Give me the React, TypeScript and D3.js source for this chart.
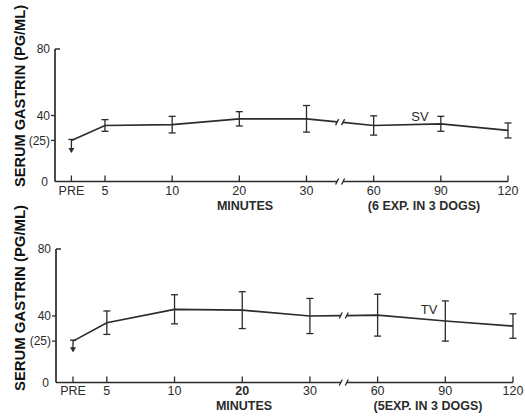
import React from 'react';
import * as d3 from 'd3';

// time points (PRE sits half a step before 5 min)
const categories = ['PRE', '5', '10', '20', '30', '60', '90', '120'];
const slots = [0.5, 1, 2, 3, 4, 5, 6, 7];

// serum gastrin, pg/ml
const svMean = [25, 34, 34.5, 38, 38, 34, 35, 31];
const svErr = [7, 3.5, 5, 4.3, 8, 5.8, 4.5, 4.5];
const tvMean = [25, 36, 44, 43.5, 40, 40.5, 37, 34];
const tvErr = [6, 7, 8.7, 11, 10.5, 12.5, 12, 7.3];

const yTicks = [0, 25, 40, 80];
const yTickLabels = ['0', '(25)', '40', '80'];

const ink = '#2b2b2b';
const font = '"Liberation Sans", Arial, sans-serif';

type PanelProps = {
	yTop: number;
	yZero: number;
	axisX: number;
	xRange: [number, number];
	mean: number[];
	err: number[];
	name: string;
	namePos: [number, number];
	note: string;
	notePos: [number, number];
	minutesPos: [number, number];
	tickLabelY: number;
	boldTick?: string;
	yLabelCenter: number;
	yLabelLength: number;
};

function Panel(p: PanelProps) {
	const x = d3.scaleLinear().domain([0.5, 7]).range(p.xRange);
	const y = d3.scaleLinear().domain([0, 80]).range([p.yZero, p.yTop]);
	const pts: [number, number][] = p.mean.map((m, i) => [x(slots[i]), y(m)]);
	const breakX = x(4.5);
	const i30 = 4;
	const a = pts[i30], b = pts[i30 + 1];
	const yAt = (px: number) => a[1] + ((px - a[0]) / (b[0] - a[0])) * (b[1] - a[1]);
	const line = d3.line();
	const seg1 = [...pts.slice(0, i30 + 1), [breakX - 3, yAt(breakX - 3)] as [number, number]];
	const seg2 = [[breakX + 3, yAt(breakX + 3)] as [number, number], ...pts.slice(i30 + 1)];
	const axisY = p.yZero - 0.5;
	const slash = (cx: number, cy: number, k: number) => (
		<g key={`${cx}-${cy}-${k}`}>
			<line x1={cx - 4.5} y1={cy + 3} x2={cx - 1.5} y2={cy - 3} stroke={ink} strokeWidth={1.3} />
			<line x1={cx + 1.5} y1={cy + 3} x2={cx + 4.5} y2={cy - 3} stroke={ink} strokeWidth={1.3} />
		</g>
	);

	return (
		<g>
			{/* y axis */}
			<line x1={p.axisX} y1={y(80)} x2={p.axisX} y2={axisY} stroke={ink} strokeWidth={1.7} />
			<line x1={p.axisX} y1={y(80)} x2={p.axisX + 5} y2={y(80)} stroke={ink} strokeWidth={1.5} />
			{yTicks.map((t, i) => (
				<g key={t}>
					{t === 25 || t === 40 ? (
						<line x1={p.axisX - 4} y1={y(t)} x2={p.axisX} y2={y(t)} stroke={ink} strokeWidth={1.3} />
					) : null}
					<text x={t === 0 ? p.axisX - 7 : p.axisX - 5} y={y(t)} dy="0.35em" textAnchor="end"
						fontFamily={font} fontSize={12} fill={ink}>{yTickLabels[i]}</text>
				</g>
			))}
			{/* x axis with break */}
			<line x1={p.axisX} y1={axisY} x2={breakX - 3} y2={axisY} stroke={ink} strokeWidth={1.7} />
			<line x1={breakX + 3} y1={axisY} x2={p.xRange[1]} y2={axisY} stroke={ink} strokeWidth={1.7} />
			{slash(breakX, axisY, 0)}
			{categories.map((c, i) => (
				<g key={c}>
					<line x1={x(slots[i])} y1={axisY} x2={x(slots[i])} y2={axisY - 6} stroke={ink} strokeWidth={1.3} />
					<text x={x(slots[i])} y={p.tickLabelY} dy="0.35em" textAnchor="middle" fontFamily={font}
						fontSize={12.5} fontWeight={c === p.boldTick ? 'bold' : 'normal'} fill={ink}>{c}</text>
				</g>
			))}
			<text x={p.minutesPos[0]} y={p.minutesPos[1]} dy="0.35em" textAnchor="middle" fontFamily={font}
				fontSize={12.5} fontWeight="bold" fill={ink}>MINUTES</text>
			<text x={p.notePos[0]} y={p.notePos[1]} dy="0.35em" textAnchor="middle" fontFamily={font}
				fontSize={12.5} fontWeight="bold" fill={ink}>{p.note}</text>
			<text transform={`translate(20,${p.yLabelCenter}) rotate(-90)`} dy="0.35em" textAnchor="middle"
				fontFamily={font} fontSize={14} fontWeight="bold" fill="#111"
				textLength={p.yLabelLength} lengthAdjust="spacingAndGlyphs">SERUM GASTRIN (PG/ML)</text>
			{/* data line with break */}
			<path d={line(seg1) || ''} fill="none" stroke={ink} strokeWidth={1.7} />
			<path d={line(seg2) || ''} fill="none" stroke={ink} strokeWidth={1.7} />
			{slash(breakX, yAt(breakX), 1)}
			{/* error bars */}
			{p.mean.map((m, i) => {
				const cx = x(slots[i]);
				if (i === 0) {
					const lo = y(m - p.err[i]);
					return (
						<g key={i}>
							<line x1={cx - 3} y1={y(m) - 1} x2={cx + 3} y2={y(m) - 1} stroke={ink} strokeWidth={1.3} />
							<line x1={cx} y1={y(m) - 1} x2={cx} y2={lo} stroke={ink} strokeWidth={1.3} />
							<path d={`M${cx - 3},${lo - 4}L${cx + 3},${lo - 4}L${cx},${lo + 1}Z`} fill={ink} />
						</g>
					);
				}
				return (
					<g key={i}>
						<line x1={cx} y1={y(m + p.err[i])} x2={cx} y2={y(m - p.err[i])} stroke={ink} strokeWidth={1.3} />
						<line x1={cx - 3.5} y1={y(m + p.err[i])} x2={cx + 3.5} y2={y(m + p.err[i])} stroke={ink} strokeWidth={1.3} />
						<line x1={cx - 3.5} y1={y(m - p.err[i])} x2={cx + 3.5} y2={y(m - p.err[i])} stroke={ink} strokeWidth={1.3} />
					</g>
				);
			})}
			<text x={p.namePos[0]} y={p.namePos[1]} dy="0.35em" textAnchor="middle" fontFamily={font}
				fontSize={13} fill={ink}>{p.name}</text>
		</g>
	);
}

export default function App() {
	return (
		<div style={{ position: 'fixed', left: 0, top: 0 }}>
			<svg width={525} height={418} style={{ display: 'block', background: '#fff' }}>
				<Panel yTop={49} yZero={182} axisX={55} xRange={[71.4, 508]} mean={svMean} err={svErr}
					name="SV" namePos={[420, 116]} note="(6 EXP. IN 3 DOGS)" notePos={[424, 206]}
					minutesPos={[245, 206]} tickLabelY={191} yLabelCenter={96} yLabelLength={182} />
				<Panel yTop={249} yZero={383} axisX={56} xRange={[73, 513]} mean={tvMean} err={tvErr}
					name="TV" namePos={[429, 309]} note="(5EXP. IN 3 DOGS)" notePos={[428, 406]}
					minutesPos={[244, 406]} tickLabelY={391} boldTick="20" yLabelCenter={298} yLabelLength={186} />
			</svg>
		</div>
	);
}
